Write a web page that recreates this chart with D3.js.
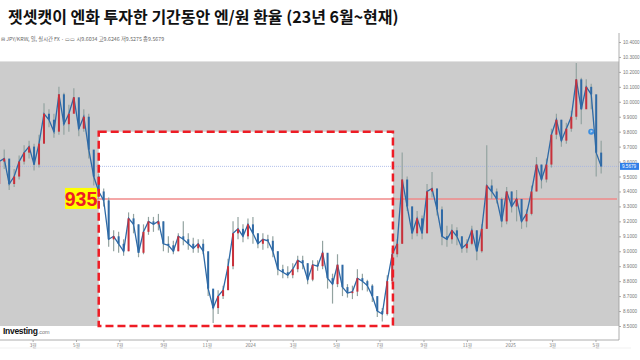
<!DOCTYPE html>
<html><head><meta charset="utf-8">
<script src="https://cdn.jsdelivr.net/npm/d3@7/dist/d3.min.js"></script>
<style>
html,body{margin:0;padding:0;background:#fff;}
svg{display:block;}
</style></head>
<body>
<svg id="c" width="640" height="360"></svg>
<script>
// ---- data (weekly candles, JPY/KRW) ----
const firstWeek = "2023-01-13";
const closes = [9.60,9.62,9.45,9.50,9.60,9.66,9.70,9.58,9.72,9.92,
  9.88,9.80,10.05,9.85,9.92,10.03,9.82,9.90,9.68,9.50,
  9.40,9.34,9.08,9.10,9.05,9.00,9.22,9.18,8.99,9.13,
  9.20,9.18,9.20,9.05,9.04,9.00,9.10,9.08,9.05,9.02,
  9.05,9.00,8.75,8.62,8.70,8.74,8.90,9.12,9.15,9.10,
  9.18,9.12,9.05,9.08,9.07,9.00,8.88,8.86,8.84,8.88,
  8.94,8.92,8.81,8.91,8.90,8.99,8.82,8.78,8.91,8.76,
  8.72,8.73,8.82,8.80,8.77,8.70,8.60,8.58,8.80,8.98,
  9.05,9.48,9.30,9.12,9.22,9.12,9.40,9.42,9.28,9.10,
  9.08,9.14,9.10,9.02,9.05,9.14,9.00,9.15,9.44,9.40,
  9.35,9.20,9.40,9.30,9.35,9.20,9.25,9.40,9.58,9.48,
  9.58,9.78,9.88,9.74,9.82,9.90,10.15,9.95,10.10,10.05,
  9.66,9.5679];
const highs = [9.66,9.68,9.60,9.55,9.64,9.71,9.74,9.72,9.78,9.99,
  9.95,9.92,10.10,10.06,9.98,10.09,10.02,9.95,9.92,9.66,
  9.52,9.42,9.36,9.14,9.13,9.08,9.26,9.25,9.18,9.18,
  9.23,9.23,9.25,9.20,9.10,9.07,9.12,9.20,9.12,9.09,
  9.08,9.08,8.98,8.74,8.74,8.77,8.95,9.20,9.23,9.18,
  9.22,9.23,9.12,9.12,9.11,9.10,9.00,8.91,8.90,8.92,
  8.97,8.97,8.92,8.94,8.94,9.07,8.98,8.85,8.98,8.90,
  8.78,8.77,8.88,8.85,8.81,8.78,8.69,8.62,8.84,9.02,
  9.08,9.66,9.50,9.30,9.27,9.24,9.45,9.53,9.42,9.30,
  9.17,9.18,9.16,9.10,9.08,9.17,9.14,9.18,9.71,9.48,
  9.42,9.36,9.43,9.40,9.41,9.35,9.28,9.44,9.63,9.58,
  9.62,9.82,9.92,9.88,9.86,9.94,10.26,10.16,10.15,10.12,
  10.00,9.74];
const lows = [9.42,9.55,9.41,9.43,9.48,9.58,9.62,9.54,9.56,9.72,
  9.83,9.76,9.78,9.78,9.80,9.95,9.77,9.80,9.62,9.44,
  9.35,9.30,9.03,9.00,8.99,8.97,9.00,9.12,8.96,8.98,
  9.11,9.13,9.14,9.00,8.99,8.98,9.00,9.04,9.01,8.99,
  8.99,8.98,8.70,8.52,8.58,8.68,8.74,8.88,9.08,9.06,
  9.08,9.05,9.02,9.01,9.02,8.96,8.84,8.82,8.82,8.82,
  8.86,8.88,8.78,8.80,8.87,8.88,8.75,8.65,8.76,8.70,
  8.69,8.68,8.70,8.74,8.73,8.66,8.56,8.53,8.57,8.78,
  8.96,9.05,9.27,9.08,9.10,9.08,9.12,9.36,9.24,9.04,
  9.03,9.05,9.04,8.99,8.99,9.04,8.94,8.99,9.15,9.35,
  9.32,9.16,9.18,9.26,9.20,9.15,9.16,9.24,9.40,9.42,
  9.46,9.56,9.75,9.70,9.72,9.80,9.88,9.85,9.98,9.95,
  9.50,9.52];
const firstOpen = 9.45;

const yTicks = [10.4,10.3,10.2,10.1,10.0,9.9,9.8,9.7,9.6,9.5,9.4,9.3,9.2,9.1,9.0,8.9,8.8,8.7,8.6,8.5];
const xTickDates = ["2023-03-01","2023-05-01","2023-07-01","2023-09-01","2023-11-01","2024-01-01",
  "2024-03-01","2024-05-01","2024-07-01","2024-09-01","2024-11-01","2025-01-01","2025-03-01","2025-05-01"];
const xTickLabels = ["3월","5월","7월","9월","11월","2024","3월","5월","7월","9월","11월","2025","3월","5월"];

const title = "젯셋캣이 엔화 투자한 기간동안 엔/원 환율 (23년 6월~현재)";
const subtitle = "⊟ JPY/KRW, 일, 실시간 FX · ▭▭  시9.6034  고9.6246  저9.5275  종9.5679";
const lastPrice = 9.5679;
const refLevel = 9.35;
const refLabel = "935";
const boxStart = "2023-06-02", boxEnd = "2024-07-20", boxTop = 9.8, boxBottom = 8.5;
const shadeTop = 10.27;
const eventDate = "2025-04-25", eventValue = 9.80;

// ---- build ----
const parse = d3.utcParse("%Y-%m-%d");
const w0 = parse(firstWeek);
const data = closes.map((c,i)=>({
  date: d3.utcDay.offset(w0, 7*i),
  open: i===0 ? firstOpen : closes[i-1],
  high: highs[i], low: lows[i], close: c
}));

const svg = d3.select("#c");
const plotRight = 619, axisBottomY = 340;
const x = d3.scaleUtc().domain([parse("2023-01-01"), parse("2025-01-01")]).range([-9.3, 510.2]);
const y = d3.scaleLinear().domain([8.5, 10.4]).range([326, 42]);

// title
svg.append("text").attr("x",8).attr("y",23)
  .attr("font-family","'Noto Sans CJK KR', sans-serif").attr("font-weight","bold")
  .attr("font-size",16).attr("fill","#111").text(title);
svg.append("text").attr("x",1).attr("y",41)
  .attr("font-family","'Noto Sans CJK KR', sans-serif")
  .attr("font-size",5.3).attr("fill","#666").text(subtitle);

// shaded area
svg.append("rect").attr("x",0).attr("y",y(shadeTop)).attr("width",plotRight)
  .attr("height", y(8.5)-y(shadeTop)).attr("fill","#cccccc");

// white highlight box
svg.append("rect").attr("x",x(parse(boxStart))).attr("y",y(boxTop))
  .attr("width",x(parse(boxEnd))-x(parse(boxStart))).attr("height",y(boxBottom)-y(boxTop))
  .attr("fill","#ffffff");

// current price line
svg.append("line").attr("x1",0).attr("x2",plotRight).attr("y1",y(lastPrice)).attr("y2",y(lastPrice))
  .attr("stroke","#9fb0e6").attr("stroke-width",0.8).attr("stroke-dasharray","1,1");

// reference line
svg.append("line").attr("x1",97).attr("x2",617).attr("y1",y(refLevel)).attr("y2",y(refLevel))
  .attr("stroke","#f08a8a").attr("stroke-width",1.5);

// candles
svg.append("clipPath").attr("id","pc").append("rect")
  .attr("x",0).attr("y",0).attr("width",plotRight).attr("height",360);
const g = svg.append("g").attr("clip-path","url(#pc)");
g.selectAll("line.w").data(data).join("line").attr("class","w")
  .attr("x1",d=>x(d.date)).attr("x2",d=>x(d.date))
  .attr("y1",d=>y(d.high)).attr("y2",d=>y(d.low))
  .attr("stroke","#93a3a0").attr("stroke-width",1.2);
g.append("path").datum(data)
  .attr("d", d3.line().x(d=>x(d.date)).y(d=>y(d.close)))
  .attr("fill","none").attr("stroke","#2f6aa6").attr("stroke-width",1.3);
g.selectAll("rect.b").data(data).join("rect").attr("class","b")
  .attr("x",d=>x(d.date)-1).attr("width",2)
  .attr("y",d=>y(Math.max(d.open,d.close)))
  .attr("height",d=>Math.max(1, Math.abs(y(d.open)-y(d.close))))
  .attr("fill",d=>d.close>=d.open ? "#c9303a" : "#2f6aa6");

// dashed box border
svg.append("rect").attr("x",x(parse(boxStart))).attr("y",y(boxTop))
  .attr("width",x(parse(boxEnd))-x(parse(boxStart))).attr("height",y(boxBottom)-y(boxTop))
  .attr("fill","none").attr("stroke","#ee1c25").attr("stroke-width",2.5)
  .attr("stroke-dasharray","8,4");

// 935 label
svg.append("rect").attr("x",65).attr("y",y(refLevel)-11).attr("width",32).attr("height",21)
  .attr("fill","#ffff00");
svg.append("text").attr("x",81).attr("y",y(refLevel)+7).attr("text-anchor","middle")
  .attr("font-family","'Liberation Sans', Arial, sans-serif").attr("font-weight","bold")
  .attr("font-size",19.5).attr("fill","#ee1c25").text(refLabel);

// event marker
svg.append("circle").attr("cx",x(parse(eventDate))).attr("cy",y(eventValue)).attr("r",3)
  .attr("fill","#3d8fe0");
svg.append("text").attr("x",x(parse(eventDate))).attr("y",y(eventValue)+1.5).attr("text-anchor","middle")
  .attr("font-family","sans-serif").attr("font-size",3.5).attr("fill","#fff").text("F");

// right axis
const ya = svg.append("g").attr("transform",`translate(${plotRight},0)`)
  .call(d3.axisRight(y).tickValues(yTicks).tickFormat(d3.format(".4f")).tickSize(2).tickPadding(2));
ya.select(".domain").remove();
ya.selectAll("text").attr("font-family","'Liberation Sans', Arial, sans-serif").attr("font-size",4.6).attr("fill","#777");
ya.selectAll("line").attr("stroke","#aaa");
svg.append("line").attr("x1",plotRight).attr("x2",plotRight).attr("y1",33).attr("y2",axisBottomY)
  .attr("stroke","#999").attr("stroke-width",0.8);

// current price tag
svg.append("rect").attr("x",plotRight+1).attr("y",y(lastPrice)-3.5).attr("width",19).attr("height",7)
  .attr("fill","#2f7fe8");
svg.append("text").attr("x",plotRight+3).attr("y",y(lastPrice)+1.7)
  .attr("font-family","'Liberation Sans', Arial, sans-serif").attr("font-size",4.6).attr("fill","#fff")
  .text(d3.format(".4f")(lastPrice));

// bottom axis
svg.append("line").attr("x1",0).attr("x2",plotRight).attr("y1",axisBottomY).attr("y2",axisBottomY)
  .attr("stroke","#999").attr("stroke-width",0.8);
const xa = svg.append("g").attr("transform",`translate(0,${axisBottomY})`)
  .call(d3.axisBottom(x).tickValues(xTickDates.map(parse))
    .tickFormat((d,i)=>xTickLabels[i]).tickSize(2).tickPadding(2));
xa.select(".domain").remove();
xa.selectAll("text").attr("font-family","'Noto Sans CJK KR', sans-serif").attr("font-size",4.6).attr("fill","#777");
xa.selectAll("line").attr("stroke","#aaa");
svg.append("line").attr("x1",0).attr("x2",plotRight+12).attr("y1",348).attr("y2",348)
  .attr("stroke","#eee").attr("stroke-width",0.8);

// Investing.com logo
const logo = svg.append("text").attr("x",3).attr("y",334)
  .attr("font-family","'Liberation Sans', Arial, sans-serif");
logo.append("tspan").attr("font-weight","bold").attr("font-size",8.5).attr("fill","#111").attr("letter-spacing",-0.3).text("Investing");
logo.append("tspan").attr("font-size",5.5).attr("fill","#777").text(".com");
</script>
</body></html>
